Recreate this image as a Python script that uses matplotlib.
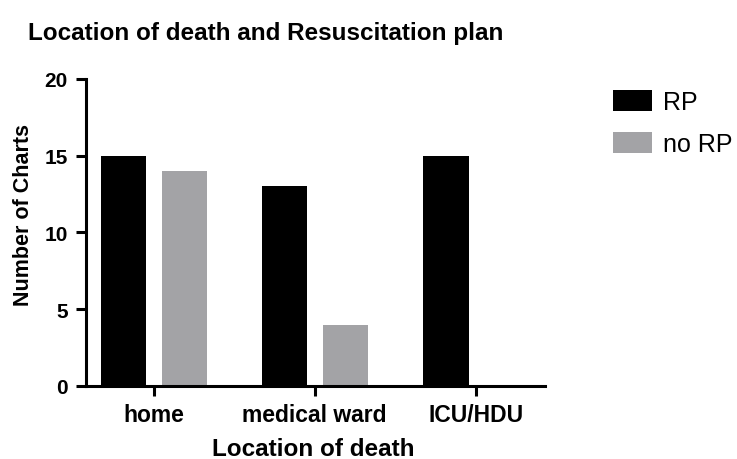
import matplotlib
matplotlib.use("Agg")
import matplotlib.pyplot as plt
import numpy as np

plt.rcParams['font.family'] = ['Liberation Sans', 'DejaVu Sans']

locations = ["home", "medical ward", "ICU/HDU"]
rp = [15, 13, 15]
no_rp = [14, 4, 0]
series_names = ["RP", "no RP"]
yticks = [0, 5, 10, 15, 20]


def main():
    fig = plt.figure(figsize=(7.37, 4.6), dpi=100)
    ax = fig.add_axes([0.1167, 0.1587, 0.6228, 0.6674])

    x = np.arange(len(locations))
    w = 0.28
    ax.bar(x - 0.185, rp, w, color='black', label=series_names[0])
    ax.bar(x + 0.19, no_rp, w, color='#a3a3a6', label=series_names[1])

    ax.set_xlim(-0.42, 2.43)
    ax.set_ylim(0, 20)
    ax.set_yticks(yticks)
    ax.set_xticks(x)
    ax.set_xticklabels(locations)

    for s in ['top', 'right']:
        ax.spines[s].set_visible(False)
    for s in ['left', 'bottom']:
        ax.spines[s].set_linewidth(2.2)
    ax.tick_params(width=2.2, length=7)
    ax.tick_params(axis='y', pad=6)
    ax.tick_params(axis='x', pad=5)
    for lab in ax.get_xticklabels():
        lab.set_fontweight('bold')
        lab.set_fontsize(16.5)
    for lab in ax.get_yticklabels():
        lab.set_fontweight('bold')
        lab.set_fontsize(15)

    ax.set_ylabel("Number of Charts", fontsize=15.5, fontweight='bold')
    ax.yaxis.set_label_coords(-0.113, 0.56)
    ax.set_xlabel("Location of death", fontsize=17.5, fontweight='bold')
    ax.xaxis.set_label_coords(0.496, -0.167)

    fig.text(0.038, 0.913, "Location of death and Resuscitation plan",
             fontsize=17.5, fontweight='bold', ha='left', va='baseline')

    fig.legend(loc='upper left', bbox_to_anchor=(0.832, 0.802), frameon=False,
               borderpad=0, borderaxespad=0, fontsize=18, handlelength=1.56,
               handleheight=0.92, labelspacing=0.7, handletextpad=0.45)

    fig.savefig("out.png", dpi=100)


if __name__ == "__main__":
    main()
